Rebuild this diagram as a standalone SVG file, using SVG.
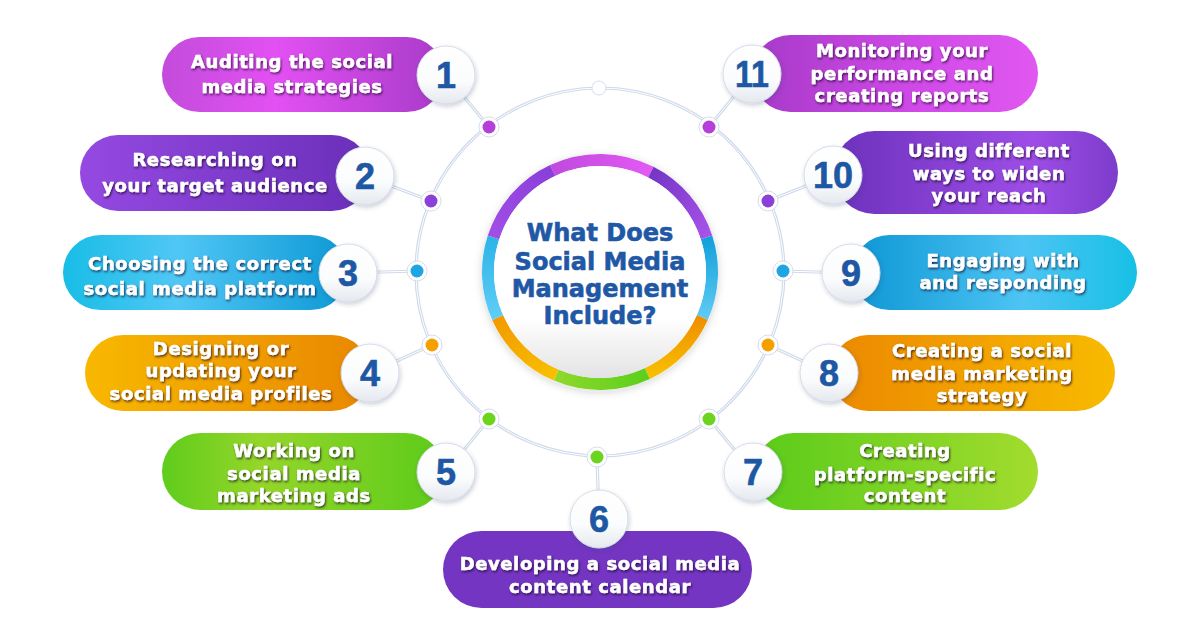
<svg xmlns="http://www.w3.org/2000/svg" width="1200" height="630" viewBox="0 0 1200 630">
<defs>
  <linearGradient id="gMag" x1="0" y1="0" x2="1" y2="0"><stop offset="0" stop-color="#c24cdb"/><stop offset="0.4" stop-color="#e350f3"/><stop offset="1" stop-color="#a83bc9"/></linearGradient>
  <linearGradient id="gMagR" x1="0" y1="0" x2="1" y2="0"><stop offset="0" stop-color="#a63ac8"/><stop offset="0.6" stop-color="#d24ae9"/><stop offset="1" stop-color="#e058f0"/></linearGradient>
  <linearGradient id="gPur" x1="0" y1="0" x2="1" y2="0"><stop offset="0" stop-color="#9549e2"/><stop offset="1" stop-color="#6a2fb9"/></linearGradient>
  <linearGradient id="gPurR" x1="0" y1="0" x2="1" y2="0"><stop offset="0" stop-color="#6c31bc"/><stop offset="0.7" stop-color="#9d4de6"/><stop offset="1" stop-color="#7d3ccb"/></linearGradient>
  <linearGradient id="gBlu" x1="0" y1="0" x2="1" y2="0"><stop offset="0" stop-color="#17bde6"/><stop offset="0.4" stop-color="#50c7f5"/><stop offset="1" stop-color="#0d98d5"/></linearGradient>
  <linearGradient id="gBluR" x1="0" y1="0" x2="1" y2="0"><stop offset="0" stop-color="#0d96d4"/><stop offset="0.6" stop-color="#4dc4f4"/><stop offset="1" stop-color="#17c0e5"/></linearGradient>
  <linearGradient id="gOra" x1="0" y1="0" x2="1" y2="0"><stop offset="0" stop-color="#f8b800"/><stop offset="1" stop-color="#e98700"/></linearGradient>
  <linearGradient id="gOraR" x1="0" y1="0" x2="1" y2="0"><stop offset="0" stop-color="#ec8800"/><stop offset="1" stop-color="#f8ba00"/></linearGradient>
  <linearGradient id="gGrn" x1="0" y1="0" x2="1" y2="0"><stop offset="0" stop-color="#5fcc1c"/><stop offset="0.35" stop-color="#95d62a"/><stop offset="1" stop-color="#5ccb1a"/></linearGradient>
  <linearGradient id="gGrnR" x1="0" y1="0" x2="1" y2="0"><stop offset="0" stop-color="#5acb1a"/><stop offset="1" stop-color="#a2dc2e"/></linearGradient>
  <linearGradient id="gNum" x1="0" y1="0" x2="0" y2="1"><stop offset="0" stop-color="#ffffff"/><stop offset="0.6" stop-color="#fbfcfd"/><stop offset="1" stop-color="#e4e8ee"/></linearGradient>
  <linearGradient id="gDisc" x1="0" y1="0" x2="0" y2="1"><stop offset="0" stop-color="#ffffff"/><stop offset="0.72" stop-color="#ffffff"/><stop offset="1" stop-color="#e3e3e5"/></linearGradient>
  <linearGradient id="sA" x1="0" y1="0" x2="1" y2="0"><stop offset="0" stop-color="#bf4ade"/><stop offset="1" stop-color="#e459f4"/></linearGradient>
  <linearGradient id="sB" x1="0" y1="0" x2="1" y2="1"><stop offset="0" stop-color="#7436c4"/><stop offset="1" stop-color="#a852ea"/></linearGradient>
  <linearGradient id="sC" x1="0" y1="0" x2="0" y2="1"><stop offset="0" stop-color="#12a0da"/><stop offset="1" stop-color="#5fcaf4"/></linearGradient>
  <linearGradient id="sD" x1="0" y1="0" x2="0" y2="1"><stop offset="0" stop-color="#ee8f00"/><stop offset="1" stop-color="#f9bd00"/></linearGradient>
  <linearGradient id="sE" x1="0" y1="0" x2="1" y2="0"><stop offset="0" stop-color="#8fd82c"/><stop offset="1" stop-color="#5ccf1c"/></linearGradient>
  <linearGradient id="sF" x1="0" y1="0" x2="1" y2="1"><stop offset="0" stop-color="#f39a00"/><stop offset="1" stop-color="#f8c000"/></linearGradient>
  <linearGradient id="sG" x1="0" y1="0" x2="0" y2="1"><stop offset="0" stop-color="#2cb4e8"/><stop offset="1" stop-color="#5fcdf6"/></linearGradient>
  <linearGradient id="sH" x1="0" y1="1" x2="1" y2="0"><stop offset="0" stop-color="#a04ee6"/><stop offset="1" stop-color="#8a3fd8"/></linearGradient>
  <filter id="tsh" x="-10%" y="-30%" width="120%" height="160%"><feDropShadow dx="1" dy="1.5" stdDeviation="1" flood-color="#1a0628" flood-opacity="0.75"/></filter>
  <filter id="csh" x="-30%" y="-30%" width="160%" height="160%"><feDropShadow dx="1" dy="2" stdDeviation="2" flood-color="#2b3b5a" flood-opacity="0.25"/></filter>
  <filter id="dsh" x="-20%" y="-20%" width="140%" height="140%"><feDropShadow dx="0" dy="2" stdDeviation="4" flood-color="#333" flood-opacity="0.18"/></filter>
</defs>
<style>
  .lbl{font-family:"DejaVu Sans","Liberation Sans",sans-serif;font-weight:bold;font-size:18px;letter-spacing:0.6px;fill:#ffffff;stroke:#ffffff;stroke-width:0.5px;text-anchor:middle;filter:url(#tsh)}
  .num{font-family:"Liberation Sans","Noto Sans",sans-serif;font-weight:bold;font-size:36px;fill:#1e57a4;stroke:#1e57a4;stroke-width:0.6px;text-anchor:middle}
  .nc{fill:url(#gNum);stroke:#d3dcea;stroke-width:1;filter:url(#csh)}
  .ttl{font-family:"DejaVu Sans","Liberation Sans",sans-serif;font-weight:bold;font-size:24px;fill:#1f58a5;stroke:#1f58a5;stroke-width:0.6px;text-anchor:middle}
  .ln{fill:none;stroke:#cfdaea;stroke-width:3.2}
  .lw{fill:none;stroke:#ffffff;stroke-width:1}
  .halo{fill:#ffffff;stroke:#d4deec;stroke-width:1}
</style>
<rect width="1200" height="630" fill="#ffffff"/>

<g id="connectors">
  <circle class="ln" cx="600" cy="272" r="184"/>
  <g class="ln">
    <line x1="446" y1="75" x2="489" y2="127"/>
    <line x1="365" y1="176" x2="431" y2="201"/>
    <line x1="348" y1="273" x2="417" y2="271"/>
    <line x1="370" y1="373" x2="432" y2="345"/>
    <line x1="446" y1="472" x2="489" y2="419"/>
    <line x1="599" y1="519" x2="597" y2="457"/>
    <line x1="753" y1="472" x2="709" y2="419"/>
    <line x1="829" y1="373" x2="768" y2="345"/>
    <line x1="851" y1="273" x2="783" y2="271"/>
    <line x1="833" y1="175" x2="768" y2="201"/>
    <line x1="752" y1="74" x2="709" y2="127"/>
  </g>
  <circle class="lw" cx="600" cy="272" r="184"/>
  <g class="lw">
    <line x1="446" y1="75" x2="489" y2="127"/>
    <line x1="365" y1="176" x2="431" y2="201"/>
    <line x1="348" y1="273" x2="417" y2="271"/>
    <line x1="370" y1="373" x2="432" y2="345"/>
    <line x1="446" y1="472" x2="489" y2="419"/>
    <line x1="599" y1="519" x2="597" y2="457"/>
    <line x1="753" y1="472" x2="709" y2="419"/>
    <line x1="829" y1="373" x2="768" y2="345"/>
    <line x1="851" y1="273" x2="783" y2="271"/>
    <line x1="833" y1="175" x2="768" y2="201"/>
    <line x1="752" y1="74" x2="709" y2="127"/>
  </g>
  <circle class="halo" cx="599" cy="88" r="7"/>
  <g id="dots">
    <circle class="halo" cx="489" cy="127" r="10"/><circle cx="489" cy="127" r="6.5" fill="#b53fd8"/>
    <circle class="halo" cx="431" cy="201" r="10"/><circle cx="431" cy="201" r="6.5" fill="#8c40da"/>
    <circle class="halo" cx="417" cy="271" r="10"/><circle cx="417" cy="271" r="6.5" fill="#1fa5e2"/>
    <circle class="halo" cx="432" cy="345" r="10"/><circle cx="432" cy="345" r="6.5" fill="#f5a000"/>
    <circle class="halo" cx="489" cy="419" r="10"/><circle cx="489" cy="419" r="6.5" fill="#6ad41e"/>
    <circle class="halo" cx="597" cy="457" r="10"/><circle cx="597" cy="457" r="6.5" fill="#6ad41e"/>
    <circle class="halo" cx="709" cy="419" r="10"/><circle cx="709" cy="419" r="6.5" fill="#6ad41e"/>
    <circle class="halo" cx="768" cy="345" r="10"/><circle cx="768" cy="345" r="6.5" fill="#f5a000"/>
    <circle class="halo" cx="783" cy="271" r="10"/><circle cx="783" cy="271" r="6.5" fill="#1fa5e2"/>
    <circle class="halo" cx="768" cy="201" r="10"/><circle cx="768" cy="201" r="6.5" fill="#8c40da"/>
    <circle class="halo" cx="709" cy="127" r="10"/><circle cx="709" cy="127" r="6.5" fill="#b53fd8"/>
  </g>
</g>

<g id="center">
  <circle cx="600" cy="272" r="118" fill="#ffffff" filter="url(#dsh)"/>
  <g fill="none" stroke-width="12">
    <path d="M552.67,170.50 A112,112 0 0 1 650.85,172.21" stroke="url(#sA)"/>
    <path d="M650.85,172.21 A112,112 0 0 1 706.52,237.39" stroke="url(#sB)"/>
    <path d="M706.52,237.39 A112,112 0 0 1 702.32,317.55" stroke="url(#sC)"/>
    <path d="M702.32,317.55 A112,112 0 0 1 647.33,373.51" stroke="url(#sD)"/>
    <path d="M647.33,373.51 A112,112 0 0 1 556.24,375.10" stroke="url(#sE)"/>
    <path d="M556.24,375.10 A112,112 0 0 1 497.68,317.55" stroke="url(#sF)"/>
    <path d="M497.68,317.55 A112,112 0 0 1 493.48,237.39" stroke="url(#sG)"/>
    <path d="M493.48,237.39 A112,112 0 0 1 552.67,170.50" stroke="url(#sH)"/>
  </g>
  <circle cx="600" cy="272" r="106" fill="url(#gDisc)"/>
  <text class="ttl" x="600" y="241">What Does</text>
  <text class="ttl" x="600" y="270">Social Media</text>
  <text class="ttl" x="600" y="297">Management</text>
  <text class="ttl" x="600" y="324">Include?</text>
</g>

<g id="item1">
  <rect x="162" y="37" width="282" height="75" rx="37.5" fill="url(#gMag)"/>
  <text class="lbl" x="292" y="68">Auditing the social</text>
  <text class="lbl" x="292" y="93">media strategies</text>
  <circle class="nc" cx="446" cy="75" r="29"/>
  <text class="num" x="446" y="88">1</text>
</g>
<g id="item2">
  <rect x="80" y="135" width="290" height="76" rx="38" fill="url(#gPur)"/>
  <text class="lbl" x="215" y="166">Researching on</text>
  <text class="lbl" x="215" y="192">your target audience</text>
  <circle class="nc" cx="365" cy="176" r="29"/>
  <text class="num" x="365" y="189">2</text>
</g>
<g id="item3">
  <rect x="63" y="235" width="285" height="75" rx="37.5" fill="url(#gBlu)"/>
  <text class="lbl" x="200" y="270">Choosing the correct</text>
  <text class="lbl" x="200" y="295">social media platform</text>
  <circle class="nc" cx="348" cy="273" r="29"/>
  <text class="num" x="348" y="286">3</text>
</g>
<g id="item4">
  <rect x="85" y="335" width="285" height="76" rx="38" fill="url(#gOra)"/>
  <text class="lbl" x="221" y="355">Designing or</text>
  <text class="lbl" x="221" y="377">updating your</text>
  <text class="lbl" x="221" y="400">social media profiles</text>
  <circle class="nc" cx="370" cy="373" r="29"/>
  <text class="num" x="370" y="386">4</text>
</g>
<g id="item5">
  <rect x="162" y="433" width="282" height="77" rx="38.5" fill="url(#gGrn)"/>
  <text class="lbl" x="294" y="457">Working on</text>
  <text class="lbl" x="294" y="480">social media</text>
  <text class="lbl" x="294" y="502">marketing ads</text>
  <circle class="nc" cx="446" cy="472" r="29"/>
  <text class="num" x="446" y="485">5</text>
</g>
<g id="item6">
  <rect x="443" y="531" width="309" height="77" rx="38.5" fill="#7435c2"/>
  <text class="lbl" x="600" y="570">Developing a social media</text>
  <text class="lbl" x="600" y="593">content calendar</text>
  <circle class="nc" cx="599" cy="519" r="29"/>
  <text class="num" x="599" y="532">6</text>
</g>
<g id="item7">
  <rect x="755" y="433" width="283" height="77" rx="38.5" fill="url(#gGrnR)"/>
  <text class="lbl" x="905" y="457">Creating</text>
  <text class="lbl" x="905" y="481">platform-specific</text>
  <text class="lbl" x="905" y="502">content</text>
  <circle class="nc" cx="753" cy="472" r="29"/>
  <text class="num" x="753" y="485">7</text>
</g>
<g id="item8">
  <rect x="830" y="335" width="285" height="76" rx="38" fill="url(#gOraR)"/>
  <text class="lbl" x="982" y="357">Creating a social</text>
  <text class="lbl" x="982" y="380">media marketing</text>
  <text class="lbl" x="982" y="402">strategy</text>
  <circle class="nc" cx="829" cy="373" r="29"/>
  <text class="num" x="829" y="386">8</text>
</g>
<g id="item9">
  <rect x="852" y="235" width="285" height="75" rx="37.5" fill="url(#gBluR)"/>
  <text class="lbl" x="1003" y="267">Engaging with</text>
  <text class="lbl" x="1003" y="289">and responding</text>
  <circle class="nc" cx="851" cy="273" r="29"/>
  <text class="num" x="851" y="286">9</text>
</g>
<g id="item10">
  <rect x="833" y="131" width="285" height="83" rx="41.5" fill="url(#gPurR)"/>
  <text class="lbl" x="989" y="157">Using different</text>
  <text class="lbl" x="989" y="180">ways to widen</text>
  <text class="lbl" x="989" y="202">your reach</text>
  <circle class="nc" cx="833" cy="175" r="29"/>
  <text class="num" x="833" y="188" textLength="40" lengthAdjust="spacingAndGlyphs">10</text>
</g>
<g id="item11">
  <rect x="752" y="35" width="286" height="77" rx="38.5" fill="url(#gMagR)"/>
  <text class="lbl" x="902" y="57">Monitoring your</text>
  <text class="lbl" x="902" y="80">performance and</text>
  <text class="lbl" x="902" y="102">creating reports</text>
  <circle class="nc" cx="752" cy="74" r="29"/>
  <text class="num" x="752" y="87" textLength="34" lengthAdjust="spacingAndGlyphs">11</text>
</g>
</svg>
